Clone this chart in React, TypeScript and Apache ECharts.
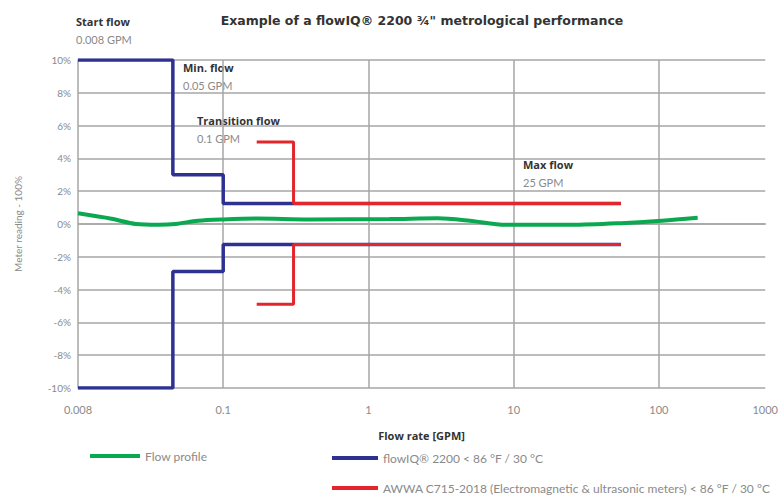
import React, { useEffect, useRef } from "react";
import * as echarts from "echarts";

const FONT = "Lato, 'Open Sans', sans-serif";
const BOLD_FONT = "'Open Sans', Lato, sans-serif";

// Flow rate [GPM] vs meter reading error [%]
const flowProfile: [number, number][] = [
  [0.01, 0.65], [0.017, 0.32], [0.025, 0.0], [0.036, -0.05], [0.047, 0.0],
  [0.067, 0.2], [0.1, 0.28], [0.17, 0.33], [0.39, 0.28], [1.4, 0.3],
  [3, 0.35], [5, 0.2], [8.8, -0.05], [25, -0.05], [55, 0.05], [105, 0.2], [185, 0.38],
];
const flowIQUpper: [number, number][] = [
  [0.01, 10], [0.045, 10], [0.045, 3], [0.1, 3], [0.1, 1.25], [54.7, 1.25],
];
const flowIQLower: [number, number][] = [
  [0.01, -10], [0.045, -10], [0.045, -2.9], [0.1, -2.9], [0.1, -1.25], [54.7, -1.25],
];
const awwaUpper: [number, number][] = [
  [0.17, 5], [0.305, 5], [0.305, 1.25], [54.7, 1.25],
];
const awwaLower: [number, number][] = [
  [0.17, -4.9], [0.305, -4.9], [0.305, -1.25], [54.7, -1.25],
];

const seriesNames = [
  "Flow profile",
  "flowIQ® 2200 < 86 °F / 30 °C",
  "AWWA C715-2018 (Electromagnetic & ultrasonic meters) < 86 °F / 30 °C",
];

const annotations = [
  { title: "Start flow", value: "0.008 GPM", x: 76, y: 24 },
  { title: "Min. flow", value: "0.05 GPM", x: 183, y: 70 },
  { title: "Transition flow", value: "0.1 GPM", x: 197, y: 123 },
  { title: "Max flow", value: "25 GPM", x: 523, y: 167 },
];

export default function App() {
  const ref = useRef<HTMLDivElement>(null);
  useEffect(() => {
    if (!ref.current) return;
    const chart = echarts.init(ref.current, null, { renderer: "svg" });
    const blue = "#2d3192";
    const red = "#e3262b";
    const green = "#0aa84f";
    const gridColor = "#a6a6a6";
    const lineSeries = (name: string, data: [number, number][], color: string, width: number, z: number, smooth: any = false) => ({
      type: "line",
      name,
      data,
      color,
      showSymbol: false,
      symbol: "none",
      smooth,
      z,
      lineStyle: { color, width },
    });
    const graphics: any[] = [];
    annotations.forEach((a) => {
      graphics.push({
        type: "text",
        left: a.x,
        top: a.y - 8,
        style: { text: a.title, font: `bold 11px ${BOLD_FONT}`, fill: "#333" },
      });
      graphics.push({
        type: "text",
        left: a.x,
        top: a.y + 10,
        style: { text: a.value, font: `11px ${FONT}`, fill: "#8a8a8a" },
      });
    });
    const legendBase = {
      icon: "rect",
      itemWidth: 46,
      itemHeight: 4,
      textStyle: { color: "#8a8a8a", fontSize: 12, fontFamily: FONT },
    };
    chart.setOption({
      animation: false,
      textStyle: { fontFamily: FONT },
      title: {
        text: "Example of a flowIQ® 2200 ¾\" metrological performance",
        left: 417,
        textAlign: "center",
        top: 9,
        textStyle: { fontSize: 12.5, fontWeight: "bold", color: "#333", fontFamily: "'DejaVu Sans', sans-serif" },
      },
      grid: { left: 78, right: 13, top: 60, bottom: 109, containLabel: false },
      xAxis: {
        type: "log",
        logBase: 10,
        min: 0.01,
        max: 540,
        name: "Flow rate [GPM]",
        nameLocation: "middle",
        nameGap: 42,
        nameTextStyle: { fontWeight: "bold", fontSize: 11, color: "#333", fontFamily: BOLD_FONT },
        axisLine: { show: true, lineStyle: { color: gridColor, width: 1.5 } },
        axisTick: { show: false },
        axisLabel: {
          color: "#8a8a8a",
          fontSize: 11,
          margin: 16,
          showMaxLabel: true,
          showMinLabel: true,
          formatter: (v: number) => {
            if (v < 0.02) return "0.008";
            if (v > 200) return "1000";
            return v >= 1 ? String(Math.round(v)) : String(+v.toPrecision(1));
          },
        },
        splitLine: { show: true, showMinLine: false, showMaxLine: false, lineStyle: { color: gridColor, width: 1.5 } },
      },
      yAxis: {
        type: "value",
        min: -10,
        max: 10,
        interval: 2,
        name: "Meter reading - 100%",
        nameLocation: "middle",
        nameGap: 55,
        nameTextStyle: { fontSize: 10, color: "#8a8a8a" },
        axisLine: { show: true, lineStyle: { color: gridColor, width: 1.5 } },
        axisTick: { show: false },
        axisLabel: { color: "#8a8a8a", fontSize: 10, margin: 7, formatter: "{value}%" },
        splitLine: { show: true, lineStyle: { color: gridColor, width: 1.5 } },
      },
      legend: [
        { ...legendBase, data: [seriesNames[0]], left: 85, top: 445, itemWidth: 50 },
        { ...legendBase, data: [seriesNames[1]], left: 327, top: 447 },
        { ...legendBase, data: [seriesNames[2]], left: 327, top: 477 },
      ],
      graphic: graphics,
      series: [
        lineSeries(seriesNames[1], flowIQUpper, blue, 3.5, 3),
        lineSeries(seriesNames[1], flowIQLower, blue, 3.5, 3),
        lineSeries(seriesNames[2], awwaUpper, red, 3, 4),
        lineSeries(seriesNames[2], awwaLower, red, 3, 4),
        lineSeries(seriesNames[0], flowProfile, green, 4, 5, 0.3),
      ],
    });
    return () => chart.dispose();
  }, []);
  return <div ref={ref} style={{ width: 781, height: 497, position: "absolute", left: 0, top: 0, background: "#fff" }} />;
}
